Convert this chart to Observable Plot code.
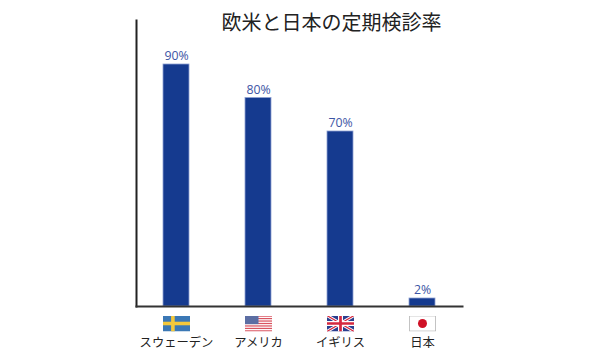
<!DOCTYPE html>
<html><head><meta charset="utf-8">
<script src="https://cdn.jsdelivr.net/npm/d3@7"></script>
<script src="https://cdn.jsdelivr.net/npm/@observablehq/plot@0.6"></script>
<style>html,body{margin:0;padding:0;background:#fff}svg{display:block}</style>
</head><body><div id="chart"></div>
<script>
const countries = ["スウェーデン", "アメリカ", "イギリス", "日本"];
const rates = [90, 80, 70, 2];
const chartTitle = "欧米と日本の定期検診率";

const svgUri = (body) => "data:image/svg+xml;utf8," + encodeURIComponent(
  `<svg xmlns="http://www.w3.org/2000/svg" viewBox="0 0 60 36" preserveAspectRatio="none">${body}</svg>`);
const usStripes = d3.range(0, 7).map(i => `<rect y="${i * 5.54}" width="60" height="2.77" fill="#d9535f"/>`).join("");
const flags = [
  svgUri(`<rect width="60" height="36" fill="#3b78b5"/><rect x="18" width="8" height="36" fill="#f4c83a"/><rect y="14" width="60" height="8" fill="#f4c83a"/>`),
  svgUri(`<rect width="60" height="36" fill="#fff"/>${usStripes}<rect width="30" height="19.4" fill="#5c6ea3"/>`),
  svgUri(`<rect width="60" height="36" fill="#2b3f8f"/><path d="M0 0L60 36M60 0L0 36" stroke="#fff" stroke-width="7"/><path d="M0 0L60 36M60 0L0 36" stroke="#d6283f" stroke-width="2.6"/><path d="M30 0V36M0 18H60" stroke="#fff" stroke-width="11"/><path d="M30 0V36M0 18H60" stroke="#d6283f" stroke-width="6"/>`),
  svgUri(`<rect x="1" y="1" width="58" height="34" fill="#fff" stroke="#bdbdbd" stroke-width="2"/><circle cx="30" cy="18" r="10" fill="#cf1126"/>`)
];
const rows = countries.map((name, i) => ({name, rate: rates[i], flag: flags[i]}));

const chart = Plot.plot({
  width: 600, height: 360,
  marginLeft: 136, marginRight: 138, marginTop: 20, marginBottom: 54,
  style: {fontFamily: "'Noto Sans CJK JP','Noto Sans',sans-serif", background: "#fff"},
  x: {domain: countries, paddingInner: 0.684, paddingOuter: 0.31, align: 0.5, label: null},
  y: {type: "linear", domain: [0, 2, 70, 90], range: [306, 298, 131, 64], axis: null},
  marks: [
    Plot.barY(rows, {x: "name", y: "rate", fill: "#153a8f", stroke: "#8ea0d2", strokeWidth: 0.8}),
    Plot.text(rows, {x: "name", y: "rate", text: d => d.rate + "%", dy: -8, fill: "#3d55a5", fontSize: 12.3, fontFamily: "'Open Sans',sans-serif"}),
    Plot.axisX({anchor: "bottom", tickSize: 0, tickPadding: 32, fontSize: 12.3, color: "#222", label: null}),
    Plot.image(rows, {x: "name", frameAnchor: "bottom", dy: 17, src: "flag", width: 27, height: 16, preserveAspectRatio: "none"}),
    Plot.frame({anchor: "left", stroke: "#222", strokeWidth: 2}),
    Plot.frame({anchor: "bottom", stroke: "#333", strokeWidth: 2}),
    Plot.text([chartTitle], {frameAnchor: "top", dx: 32, dy: -5, fontSize: 20, fill: "#222", lineAnchor: "top"})
  ]
});
document.getElementById("chart").appendChild(chart);
</script></body></html>
